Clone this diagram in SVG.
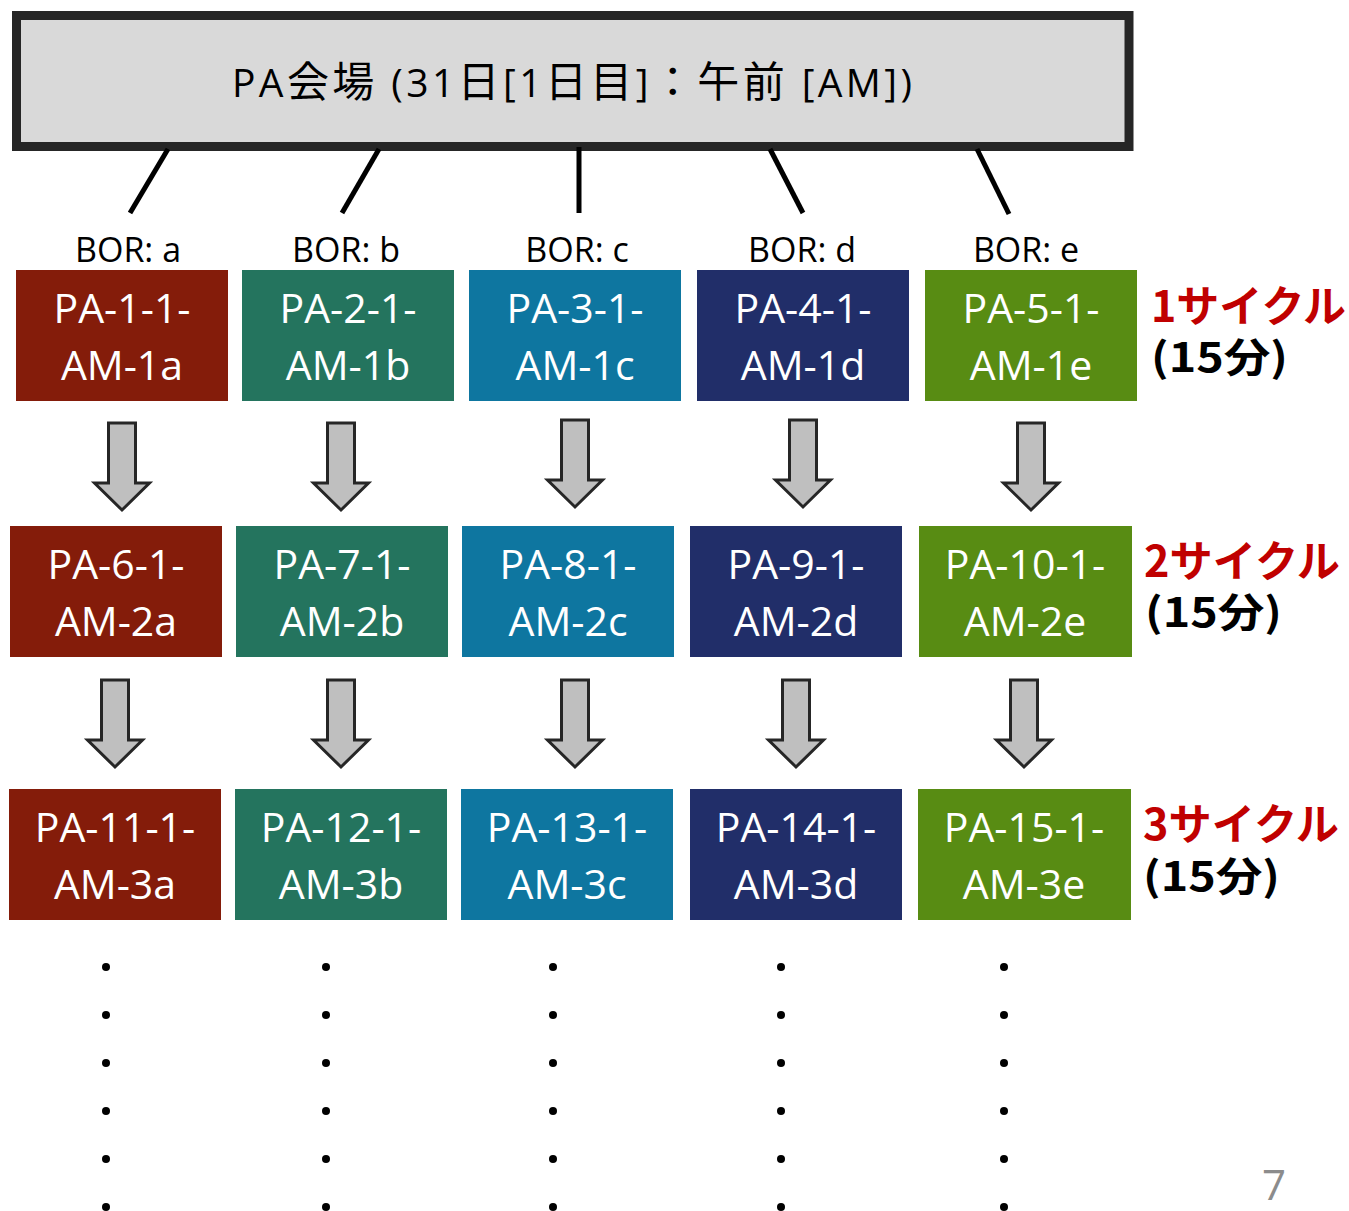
<svg xmlns="http://www.w3.org/2000/svg" xmlns:xlink="http://www.w3.org/1999/xlink" width="1349" height="1211" viewBox="0 0 1349 1211">
<style>
.title{font-family:"Open Sans","Noto Sans CJK JP",sans-serif;font-size:39px;fill:#000}
.cj{font-family:"Noto Sans CJK JP",sans-serif;font-size:42px}
.bor{font-family:"Open Sans","Noto Sans CJK JP",sans-serif;font-size:34px;fill:#000;text-anchor:middle}
.nt{font-family:"Open Sans","Noto Sans CJK JP",sans-serif;font-size:41px;fill:#fff;text-anchor:middle}
.cyc{font-family:"Noto Sans CJK JP",sans-serif;font-size:43px;font-weight:bold;fill:#C00000}
.min{font-family:"Noto Sans CJK JP",sans-serif;font-size:40px;font-weight:bold;fill:#000}
.ca{fill:#841C0A}.cb{fill:#24745E}.cc{fill:#0E76A0}.cd{fill:#212E69}.ce{fill:#588C13}
.link{stroke:#000;stroke-width:5;fill:none}
.arr{fill:#BFBFBF;stroke:#262626;stroke-width:3;stroke-linejoin:miter}
.dot{fill:#000}
</style>
<defs>
<path id="darrow" class="arr" d="M-13.5,0 H13.5 V60 H27.5 L0,87 L-27.5,60 H-13.5 Z"/>
</defs>

<g id="venue">
<rect x="16.5" y="15.5" width="1112.5" height="131" fill="#D9D9D9" stroke="#262626" stroke-width="9"/>
<text class="title" x="232" y="97" textLength="680" lengthAdjust="spacing">PA<tspan class="cj">会場</tspan> (31<tspan class="cj">日</tspan>[1<tspan class="cj">日目</tspan>]<tspan class="cj">：午前</tspan> [AM])</text>
</g>

<g id="connectors">
<line class="link" x1="168" y1="149" x2="130" y2="213"/>
<line class="link" x1="379" y1="149" x2="342" y2="213"/>
<line class="link" x1="579" y1="147" x2="579" y2="213"/>
<line class="link" x1="770" y1="149" x2="803" y2="213"/>
<line class="link" x1="977" y1="149" x2="1009" y2="214"/>
<use xlink:href="#darrow" href="#darrow" x="122" y="423"/>
<use xlink:href="#darrow" href="#darrow" x="341" y="423"/>
<use xlink:href="#darrow" href="#darrow" x="575" y="420"/>
<use xlink:href="#darrow" href="#darrow" x="803" y="420"/>
<use xlink:href="#darrow" href="#darrow" x="1031" y="423"/>
<use xlink:href="#darrow" href="#darrow" x="115" y="680"/>
<use xlink:href="#darrow" href="#darrow" x="341" y="680"/>
<use xlink:href="#darrow" href="#darrow" x="575" y="680"/>
<use xlink:href="#darrow" href="#darrow" x="796" y="680"/>
<use xlink:href="#darrow" href="#darrow" x="1024" y="680"/>
</g>

<g id="bor-labels">
<text class="bor" x="128" y="262">BOR: a</text>
<text class="bor" x="346" y="262">BOR: b</text>
<text class="bor" x="577" y="262">BOR: c</text>
<text class="bor" x="802" y="262">BOR: d</text>
<text class="bor" x="1026" y="262">BOR: e</text>
</g>

<g id="node-PA-1"><rect class="ca" x="16" y="270" width="212" height="131"/><text class="nt" x="122" y="323">PA-1-1-</text><text class="nt" x="122" y="380">AM-1a</text></g>
<g id="node-PA-2"><rect class="cb" x="242" y="270" width="212" height="131"/><text class="nt" x="348" y="323">PA-2-1-</text><text class="nt" x="348" y="380">AM-1b</text></g>
<g id="node-PA-3"><rect class="cc" x="469" y="270" width="212" height="131"/><text class="nt" x="575" y="323">PA-3-1-</text><text class="nt" x="575" y="380">AM-1c</text></g>
<g id="node-PA-4"><rect class="cd" x="697" y="270" width="212" height="131"/><text class="nt" x="803" y="323">PA-4-1-</text><text class="nt" x="803" y="380">AM-1d</text></g>
<g id="node-PA-5"><rect class="ce" x="925" y="270" width="212" height="131"/><text class="nt" x="1031" y="323">PA-5-1-</text><text class="nt" x="1031" y="380">AM-1e</text></g>

<g id="node-PA-6"><rect class="ca" x="10" y="526" width="212" height="131"/><text class="nt" x="116" y="579">PA-6-1-</text><text class="nt" x="116" y="636">AM-2a</text></g>
<g id="node-PA-7"><rect class="cb" x="236" y="526" width="212" height="131"/><text class="nt" x="342" y="579">PA-7-1-</text><text class="nt" x="342" y="636">AM-2b</text></g>
<g id="node-PA-8"><rect class="cc" x="462" y="526" width="212" height="131"/><text class="nt" x="568" y="579">PA-8-1-</text><text class="nt" x="568" y="636">AM-2c</text></g>
<g id="node-PA-9"><rect class="cd" x="690" y="526" width="212" height="131"/><text class="nt" x="796" y="579">PA-9-1-</text><text class="nt" x="796" y="636">AM-2d</text></g>
<g id="node-PA-10"><rect class="ce" x="919" y="526" width="213" height="131"/><text class="nt" x="1025" y="579">PA-10-1-</text><text class="nt" x="1025" y="636">AM-2e</text></g>

<g id="node-PA-11"><rect class="ca" x="9" y="789" width="212" height="131"/><text class="nt" x="115" y="842">PA-11-1-</text><text class="nt" x="115" y="899">AM-3a</text></g>
<g id="node-PA-12"><rect class="cb" x="235" y="789" width="212" height="131"/><text class="nt" x="341" y="842">PA-12-1-</text><text class="nt" x="341" y="899">AM-3b</text></g>
<g id="node-PA-13"><rect class="cc" x="461" y="789" width="212" height="131"/><text class="nt" x="567" y="842">PA-13-1-</text><text class="nt" x="567" y="899">AM-3c</text></g>
<g id="node-PA-14"><rect class="cd" x="690" y="789" width="212" height="131"/><text class="nt" x="796" y="842">PA-14-1-</text><text class="nt" x="796" y="899">AM-3d</text></g>
<g id="node-PA-15"><rect class="ce" x="918" y="789" width="213" height="131"/><text class="nt" x="1024" y="842">PA-15-1-</text><text class="nt" x="1024" y="899">AM-3e</text></g>

<g id="cycle-labels">
<text class="cyc" x="1151" y="322" textLength="195" lengthAdjust="spacingAndGlyphs">1サイクル</text>
<text class="min" x="1151" y="372" textLength="137" lengthAdjust="spacingAndGlyphs">(15分)</text>
<text class="cyc" x="1144" y="577" textLength="196" lengthAdjust="spacingAndGlyphs">2サイクル</text>
<text class="min" x="1145" y="627" textLength="137" lengthAdjust="spacingAndGlyphs">(15分)</text>
<text class="cyc" x="1143" y="840" textLength="196" lengthAdjust="spacingAndGlyphs">3サイクル</text>
<text class="min" x="1143" y="891" textLength="137" lengthAdjust="spacingAndGlyphs">(15分)</text>
</g>

<g id="ellipsis">
<g id="dots-a">
<circle class="dot" cx="106" cy="967" r="4"/><circle class="dot" cx="106" cy="1015" r="4"/><circle class="dot" cx="106" cy="1063" r="4"/><circle class="dot" cx="106" cy="1111" r="4"/><circle class="dot" cx="106" cy="1159" r="4"/><circle class="dot" cx="106" cy="1207" r="4"/>
</g>
<g id="dots-b">
<circle class="dot" cx="326" cy="967" r="4"/><circle class="dot" cx="326" cy="1015" r="4"/><circle class="dot" cx="326" cy="1063" r="4"/><circle class="dot" cx="326" cy="1111" r="4"/><circle class="dot" cx="326" cy="1159" r="4"/><circle class="dot" cx="326" cy="1207" r="4"/>
</g>
<g id="dots-c">
<circle class="dot" cx="553" cy="967" r="4"/><circle class="dot" cx="553" cy="1015" r="4"/><circle class="dot" cx="553" cy="1063" r="4"/><circle class="dot" cx="553" cy="1111" r="4"/><circle class="dot" cx="553" cy="1159" r="4"/><circle class="dot" cx="553" cy="1207" r="4"/>
</g>
<g id="dots-d">
<circle class="dot" cx="781" cy="967" r="4"/><circle class="dot" cx="781" cy="1015" r="4"/><circle class="dot" cx="781" cy="1063" r="4"/><circle class="dot" cx="781" cy="1111" r="4"/><circle class="dot" cx="781" cy="1159" r="4"/><circle class="dot" cx="781" cy="1207" r="4"/>
</g>
<g id="dots-e">
<circle class="dot" cx="1004" cy="967" r="4"/><circle class="dot" cx="1004" cy="1015" r="4"/><circle class="dot" cx="1004" cy="1063" r="4"/><circle class="dot" cx="1004" cy="1111" r="4"/><circle class="dot" cx="1004" cy="1159" r="4"/><circle class="dot" cx="1004" cy="1207" r="4"/>
</g>
</g>

<text x="1274" y="1200" text-anchor="middle" font-family="'Open Sans',sans-serif" font-size="42" fill="#8C8C8C">7</text>
</svg>
